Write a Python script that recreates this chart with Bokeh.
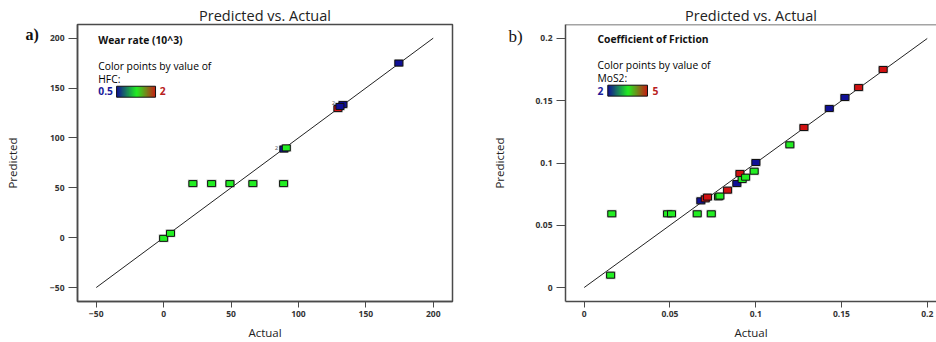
import numpy as np
from bokeh.plotting import figure
from bokeh.models import ColumnDataSource, Label, Span, FixedTicker
from bokeh.layouts import row
from bokeh.transform import linear_cmap
from bokeh.core.properties import value
from bokeh.embed import file_html
from bokeh.resources import INLINE

# ---------------- data: panel a (Wear rate) ----------------
a_actual = [174.5, 129.3, 133.0, 130.8, 89.2, 91.0, 21.7, 35.6, 49.2, 66.2, 89.0, 0.0, 5.1]
a_pred = [175.0, 129.4, 133.4, 131.5, 88.8, 90.0, 54.2, 54.2, 54.2, 54.2, 54.2, -0.7, 4.3]
a_hfc = [0.5, 2.0, 0.5, 0.5, 0.5, 1.25, 1.25, 1.25, 1.25, 1.25, 1.25, 1.25, 1.25]
a_diag = [-50, 200]
a_ticks = [-50, 0, 50, 100, 150, 200]
a_overlap_x = [83.7, 126.0]
a_overlap_y = [89.7, 134.7]
a_overlap_txt = ["2", "2"]

# ---------------- data: panel b (Coefficient of Friction) ----------------
b_actual = [0.0161, 0.0154, 0.0486, 0.0509, 0.0659, 0.0741, 0.0680, 0.0706, 0.0719,
            0.0783, 0.0791, 0.0836, 0.0890, 0.0908, 0.0921, 0.0941, 0.0991, 0.1001,
            0.1199, 0.1281, 0.1429, 0.1520, 0.1600, 0.1743]
b_pred = [0.0592, 0.0099, 0.0592, 0.0592, 0.0592, 0.0592, 0.0696, 0.0712, 0.0726,
          0.0728, 0.0734, 0.0782, 0.0835, 0.0916, 0.0867, 0.0886, 0.0934, 0.1004,
          0.1146, 0.1285, 0.1438, 0.1526, 0.1606, 0.1751]
b_mos2 = [3.5, 3.5, 3.5, 3.5, 3.5, 3.5, 2, 5, 5, 3.5, 3.5, 5, 2, 5, 3.5, 3.5, 3.5, 2,
          3.5, 5, 2, 2, 5, 5]
b_diag = [0, 0.2]
b_ticks = [0, 0.05, 0.1, 0.15, 0.2]
b_tick_labels = ["0", "0.05", "0.1", "0.15", "0.2"]

# ---------------- style ----------------
FONT = "Open Sans"
FRAME = "#4a4a4a"


def make_palette(n=255):
    anchors = np.array([[16, 16, 150], [34, 238, 34], [208, 18, 18]], dtype=float)
    t = np.linspace(0, 1, n)
    cols = []
    for v in t:
        if v <= 0.5:
            f = v / 0.5
            c = anchors[0] * (1 - f) + anchors[1] * f
        else:
            f = (v - 0.5) / 0.5
            c = anchors[1] * (1 - f) + anchors[2] * f
        cols.append("#%02x%02x%02x" % tuple(int(round(x)) for x in c))
    return cols


PALETTE = make_palette()


def gradient_image(n=128):
    grad_pal = make_palette(n)
    img = np.zeros((1, n), dtype=np.uint32)
    view = img.view(dtype=np.uint8).reshape((1, n, 4))
    for i, h in enumerate(grad_pal):
        view[0, i, 0] = int(h[1:3], 16)
        view[0, i, 1] = int(h[3:5], 16)
        view[0, i, 2] = int(h[5:7], 16)
        view[0, i, 3] = 255
    return img


def style(p):
    p.grid.visible = False
    p.background_fill_color = "white"
    p.border_fill_color = "white"
    p.title.align = "center"
    p.title.text_font = FONT
    p.title.text_font_size = "14.5px"
    p.title.text_font_style = "normal"
    p.title.text_color = "#222222"
    p.title.standoff = 0
    for ax in (p.xaxis[0], p.yaxis[0]):
        ax.axis_line_color = FRAME
        ax.axis_line_width = 1.5
        ax.major_tick_line_color = FRAME
        ax.major_tick_line_width = 1
        ax.major_tick_in = 0
        ax.minor_tick_line_color = None
        ax.major_label_text_font = FONT
        ax.major_label_text_font_size = "8.5px"
        ax.major_label_text_font_style = "bold"
        ax.major_label_text_color = "#333333"
        ax.major_label_text_line_height = 1.0
        ax.axis_label_text_font = FONT
        ax.axis_label_text_font_size = "11.5px"
        ax.axis_label_text_font_style = "normal"
        ax.axis_label_text_color = "#222222"
        ax.axis_label_text_line_height = 1.0
    p.xaxis.major_tick_out = 6
    p.xaxis.major_label_standoff = 3
    p.xaxis.axis_label_standoff = 5
    p.yaxis.major_tick_out = 9
    p.yaxis.major_label_standoff = 4
    p.xaxis.axis_label = "Actual"
    p.yaxis.axis_label = "Predicted"


def points(p, src, field, low, high):
    p.rect("x", "y", width=10, height=8, width_units="screen", height_units="screen",
           source=src, fill_color="#777777", fill_alpha=0.45, line_color=None)
    p.rect("x", "y", width=8, height=6, width_units="screen", height_units="screen",
           source=src, fill_color=linear_cmap(field, PALETTE, low, high),
           line_color="#111111", line_width=1)


def text(p, x, y, t, size="9px", bold=False, color="#111111", font=FONT):
    p.add_layout(Label(x=x, y=y, text=t, text_font=font,
                       text_font_size=size, text_font_style="bold" if bold else "normal",
                       text_color=color, text_baseline="middle", text_align="left"))


def tag(p, side, sx, y, t, size, bold):
    p.add_layout(Label(x=sx, y=y, x_units="screen", y_units="data", text=t,
                       text_font="Liberation Serif", text_font_size=size,
                       text_font_style="bold" if bold else "normal", text_color="#111111",
                       text_baseline="middle", text_align="left"), side)


TITLE_SIZE = "10.3px"
NOTE_SIZE = "10.3px"

# ---------------- panel a ----------------
fa = figure(width=466, height=342, x_range=(-63.9, 214.3), y_range=(-64.0, 213.7),
            output_backend="svg", toolbar_location=None, title="Predicted vs. Actual",
            min_border_left=77, min_border_right=14, min_border_top=24, min_border_bottom=40)
style(fa)
fa.outline_line_color = FRAME
fa.outline_line_width = 1.5
fa.xaxis.ticker = FixedTicker(ticks=a_ticks)
fa.yaxis.ticker = FixedTicker(ticks=a_ticks)
fa.yaxis.axis_label_standoff = 27

fa.line(a_diag, a_diag, line_color="#222222", line_width=1)
src_a = ColumnDataSource(dict(x=a_actual, y=a_pred, hfc=a_hfc))
points(fa, src_a, "hfc", 0.5, 2.0)
fa.text(a_overlap_x, a_overlap_y, text=a_overlap_txt, text_font=value(FONT),
        text_font_size="6px", text_color="#555555", text_baseline="middle", text_align="center")

# panel tag "a)" lives in the (otherwise empty) right side panel, shifted left
tag(fa, "right", -427, 203.2, "a)", "16px", True)
text(fa, -48.5, 198.2, "Wear rate (10^3)", size=TITLE_SIZE, bold=True)
text(fa, -48.5, 172.0, "Color points by value of", size=NOTE_SIZE, color="#000000")
text(fa, -48.5, 159.4, "HFC:", size=NOTE_SIZE, color="#000000")
text(fa, -48.5, 146.8, "0.5", size=NOTE_SIZE, bold=True, color="#1a1a9a")
text(fa, -2.8, 146.8, "2", size=NOTE_SIZE, bold=True, color="#b82020")
fa.image_rgba(image=[gradient_image()], x=-34.9, y=140.8, dw=28.9, dh=11.0)
fa.quad(left=-34.9, right=-6.0, bottom=140.8, top=151.8, fill_color=None,
        line_color="#111111", line_width=1)

# ---------------- panel b ----------------
fb = figure(width=470, height=342, x_range=(-0.0109, 0.2054), y_range=(-0.01124, 0.21124),
            output_backend="svg", toolbar_location=None, title="Predicted vs. Actual",
            min_border_left=99, min_border_right=0, min_border_top=24, min_border_bottom=40)
style(fb)
fb.outline_line_color = None
fb.xaxis.ticker = FixedTicker(ticks=b_ticks)
fb.yaxis.ticker = FixedTicker(ticks=b_ticks)
fb.xaxis.major_label_overrides = {t: l for t, l in zip(b_ticks, b_tick_labels)}
fb.yaxis.major_label_overrides = {t: l for t, l in zip(b_ticks, b_tick_labels)}
fb.yaxis.axis_label_standoff = 25
fb.add_layout(Span(location=0.21124, dimension="width", line_color=FRAME, line_width=1.5))

fb.line(b_diag, b_diag, line_color="#222222", line_width=1)
src_b = ColumnDataSource(dict(x=b_actual, y=b_pred, mos2=b_mos2))
points(fb, src_b, "mos2", 2.0, 5.0)

# panel tag "b)" in the left side panel
tag(fb, "left", 33, 0.2016, "b)", "17px", False)
text(fb, 0.00776, 0.1994, "Coefficient of Friction", size=TITLE_SIZE, bold=True)
text(fb, 0.00776, 0.1786, "Color points by value of", size=NOTE_SIZE, color="#000000")
text(fb, 0.00776, 0.1684, "MoS2:", size=NOTE_SIZE, color="#000000")
text(fb, 0.00776, 0.1582, "2", size=NOTE_SIZE, bold=True, color="#1a1a9a")
text(fb, 0.0398, 0.1582, "5", size=NOTE_SIZE, bold=True, color="#b82020")
fb.image_rgba(image=[gradient_image()], x=0.01376, y=0.1537, dw=0.02314, dh=0.0088)
fb.quad(left=0.01376, right=0.0369, bottom=0.1537, top=0.1625, fill_color=None,
        line_color="#111111", line_width=1)

layout = row(fa, fb)
open("out.html", "w").write(file_html(layout, INLINE))
